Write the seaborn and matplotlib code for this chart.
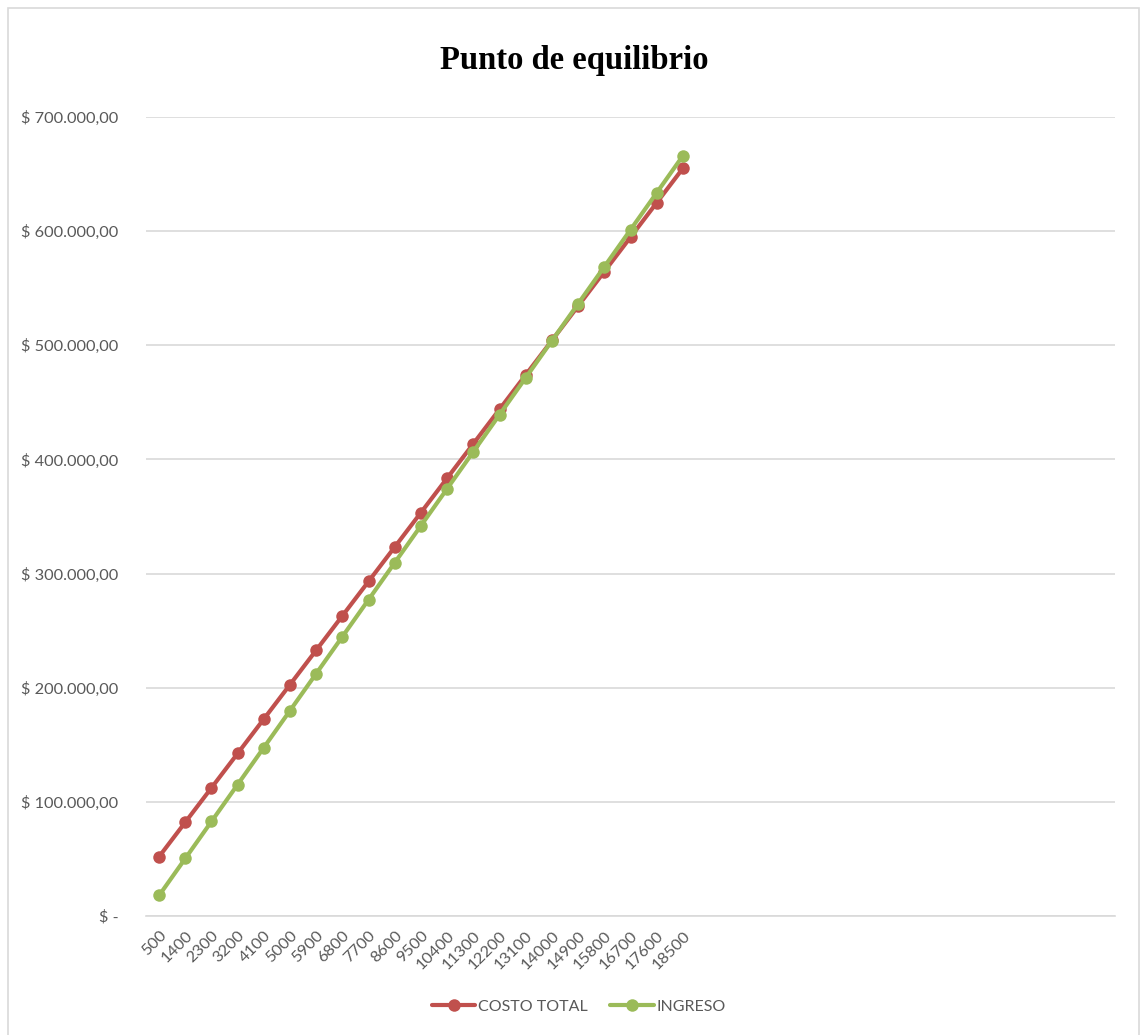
import matplotlib
matplotlib.use("Agg")
import matplotlib.pyplot as plt
from matplotlib.patches import Rectangle
import seaborn as sns
import pandas as pd

unidades = [500, 1400, 2300, 3200, 4100, 5000, 5900, 6800, 7700, 8600, 9500,
            10400, 11300, 12200, 13100, 14000, 14900, 15800, 16700, 17600, 18500]
costo_total = [52000, 82150, 112300, 142450, 172600, 202750, 232900, 263050,
               293200, 323350, 353500, 383650, 413800, 443950, 474100, 504250,
               534400, 564550, 594700, 624850, 655000]
ingreso = [18000, 50400, 82800, 115200, 147600, 180000, 212400, 244800,
           277200, 309600, 342000, 374400, 406800, 439200, 471600, 504000,
           536400, 568800, 601200, 633600, 666000]
n_categorias = 37  # eje de categorías incluye celdas vacías
y_ticks = [0, 100000, 200000, 300000, 400000, 500000, 600000, 700000]
y_labels = ["$ -", "$ 100.000,00", "$ 200.000,00", "$ 300.000,00", "$ 400.000,00",
            "$ 500.000,00", "$ 600.000,00", "$ 700.000,00"]

sns.set_theme(style="white")
plt.rcParams['font.family'] = ['Lato', 'DejaVu Sans']

df = pd.DataFrame({
    "pos": list(range(len(unidades))) * 2,
    "valor": costo_total + ingreso,
    "serie": ["COSTO TOTAL"] * len(unidades) + ["INGRESO"] * len(unidades),
})

fig = plt.figure(figsize=(11.44, 10.35), dpi=100)
W, H = 1144, 1035
ax = fig.add_axes([146 / W, 1 - 916 / H, (1115 - 146) / W, (916 - 117) / H])

sns.lineplot(data=df, x="pos", y="valor", hue="serie",
             palette={"COSTO TOTAL": "#C0504D", "INGRESO": "#9BBB59"},
             marker="o", markersize=9, markeredgewidth=0, linewidth=3,
             ax=ax, legend=True)

ax.set_xlim(-0.5, n_categorias - 0.5)
ax.set_ylim(0, 700000)
ax.set_yticks(y_ticks)
ax.set_yticklabels(y_labels)
ax.set_xticks(range(len(unidades)))
ax.set_xticklabels([str(u) for u in unidades], rotation=45, ha="right",
                   rotation_mode="anchor")
ax.tick_params(axis="both", length=0, labelsize=11.8, colors="#595959")
ax.tick_params(axis="y", pad=20)
ax.tick_params(axis="x", pad=9)
ax.set_xlabel("")
ax.set_ylabel("")
ax.grid(axis="y", color="#D9D9D9", linewidth=1.2)
ax.grid(axis="x", visible=False)
for s in ["top", "right", "left"]:
    ax.spines[s].set_visible(False)
ax.spines["bottom"].set_color("#D9D9D9")
ax.spines["bottom"].set_linewidth(1.2)
ax.set_axisbelow(True)

handles, labels = ax.get_legend_handles_labels()
ax.legend_.remove()
fig.legend(handles, labels, loc="center", bbox_to_anchor=(579 / W, 1 - 1007 / H),
           ncol=2, frameon=False, fontsize=11.5, labelcolor="#595959",
           handlelength=2.7, columnspacing=1.4, handletextpad=0.2)

fig.text(574 / W, 1 - 61 / H, "Punto de equilibrio", ha="center", va="center",
         fontsize=23.5, fontweight="bold", color="black",
         family=["Liberation Serif", "DejaVu Serif"])

fig.patches.append(Rectangle((8 / W, -0.01), (1139 - 8) / W, 1 - 8 / H + 0.01,
                             transform=fig.transFigure, fill=False,
                             edgecolor="#D9D9D9", linewidth=1.2))

fig.savefig("out.png", dpi=100, facecolor="white")
